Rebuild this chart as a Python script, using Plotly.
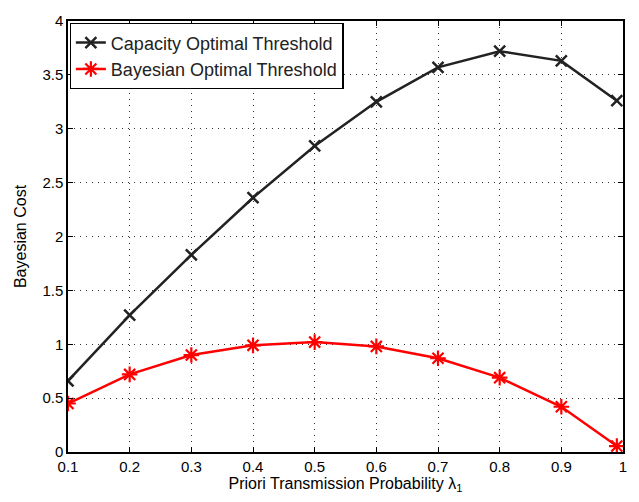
import plotly.graph_objects as go

x_vals = [0.1, 0.2, 0.3, 0.4, 0.5, 0.6, 0.7, 0.8, 0.9, 0.99]
capacity = [0.66, 1.27, 1.83, 2.36, 2.84, 3.25, 3.57, 3.72, 3.63, 3.26]
bayesian = [0.45, 0.72, 0.90, 0.99, 1.02, 0.98, 0.87, 0.69, 0.42, 0.055]
x_ticks = [0.1, 0.2, 0.3, 0.4, 0.5, 0.6, 0.7, 0.8, 0.9, 1.0]
x_tick_text = ["0.1", "0.2", "0.3", "0.4", "0.5", "0.6", "0.7", "0.8", "0.9", "1"]
y_ticks = [0, 0.5, 1, 1.5, 2, 2.5, 3, 3.5, 4]
y_tick_text = ["0", "0.5", "1", "1.5", "2", "2.5", "3", "3.5", "4"]

FONT = "Liberation Sans, Arial, Helvetica"

fig = go.Figure()
fig.add_trace(go.Scatter(
    x=x_vals, y=capacity, mode="lines+markers", name="Capacity Optimal Threshold",
    line=dict(color="#222222", width=2.5),
    marker=dict(symbol="x-thin", size=11, line=dict(color="#222222", width=2.5), color="#222222"),
))
fig.add_trace(go.Scatter(
    x=x_vals, y=bayesian, mode="lines+markers", name="Bayesian Optimal Threshold",
    line=dict(color="#ff0000", width=2.5),
    marker=dict(symbol="asterisk", size=13, line=dict(color="#ff0000", width=2.2), color="#ff0000"),
))

axis_common = dict(
    showline=True, linecolor="black", linewidth=1.5, mirror="ticks",
    ticks="inside", ticklen=5, tickcolor="black",
    showgrid=True, gridcolor="#333333", gridwidth=1, griddash="1px,5px",
    zeroline=False, tickfont=dict(family=FONT, size=15, color="black"),
)

fig.update_xaxes(
    range=[0.1, 1.0], tickvals=x_ticks, ticktext=x_tick_text,
    title=dict(text="Priori Transmission Probability λ<sub>1</sub>",
               font=dict(family=FONT, size=16, color="black"), standoff=2),
    **axis_common,
)
fig.update_yaxes(
    range=[0, 4], tickvals=y_ticks, ticktext=y_tick_text,
    title=dict(text="Bayesian Cost",
               font=dict(family=FONT, size=16, color="black"), standoff=12),
    **axis_common,
)

fig.update_layout(
    width=639, height=502,
    margin=dict(l=68, r=13, t=13, b=50),
    paper_bgcolor="white", plot_bgcolor="white",
    font=dict(family=FONT, size=15, color="black"),
    legend=dict(
        x=0.003, y=0.995, xanchor="left", yanchor="top",
        bgcolor="white", bordercolor="black", borderwidth=1.2,
        font=dict(family=FONT, size=18, color="#222222"),
        tracegroupgap=0,
    ),
    showlegend=True,
)

fig.write_html("out.html")
